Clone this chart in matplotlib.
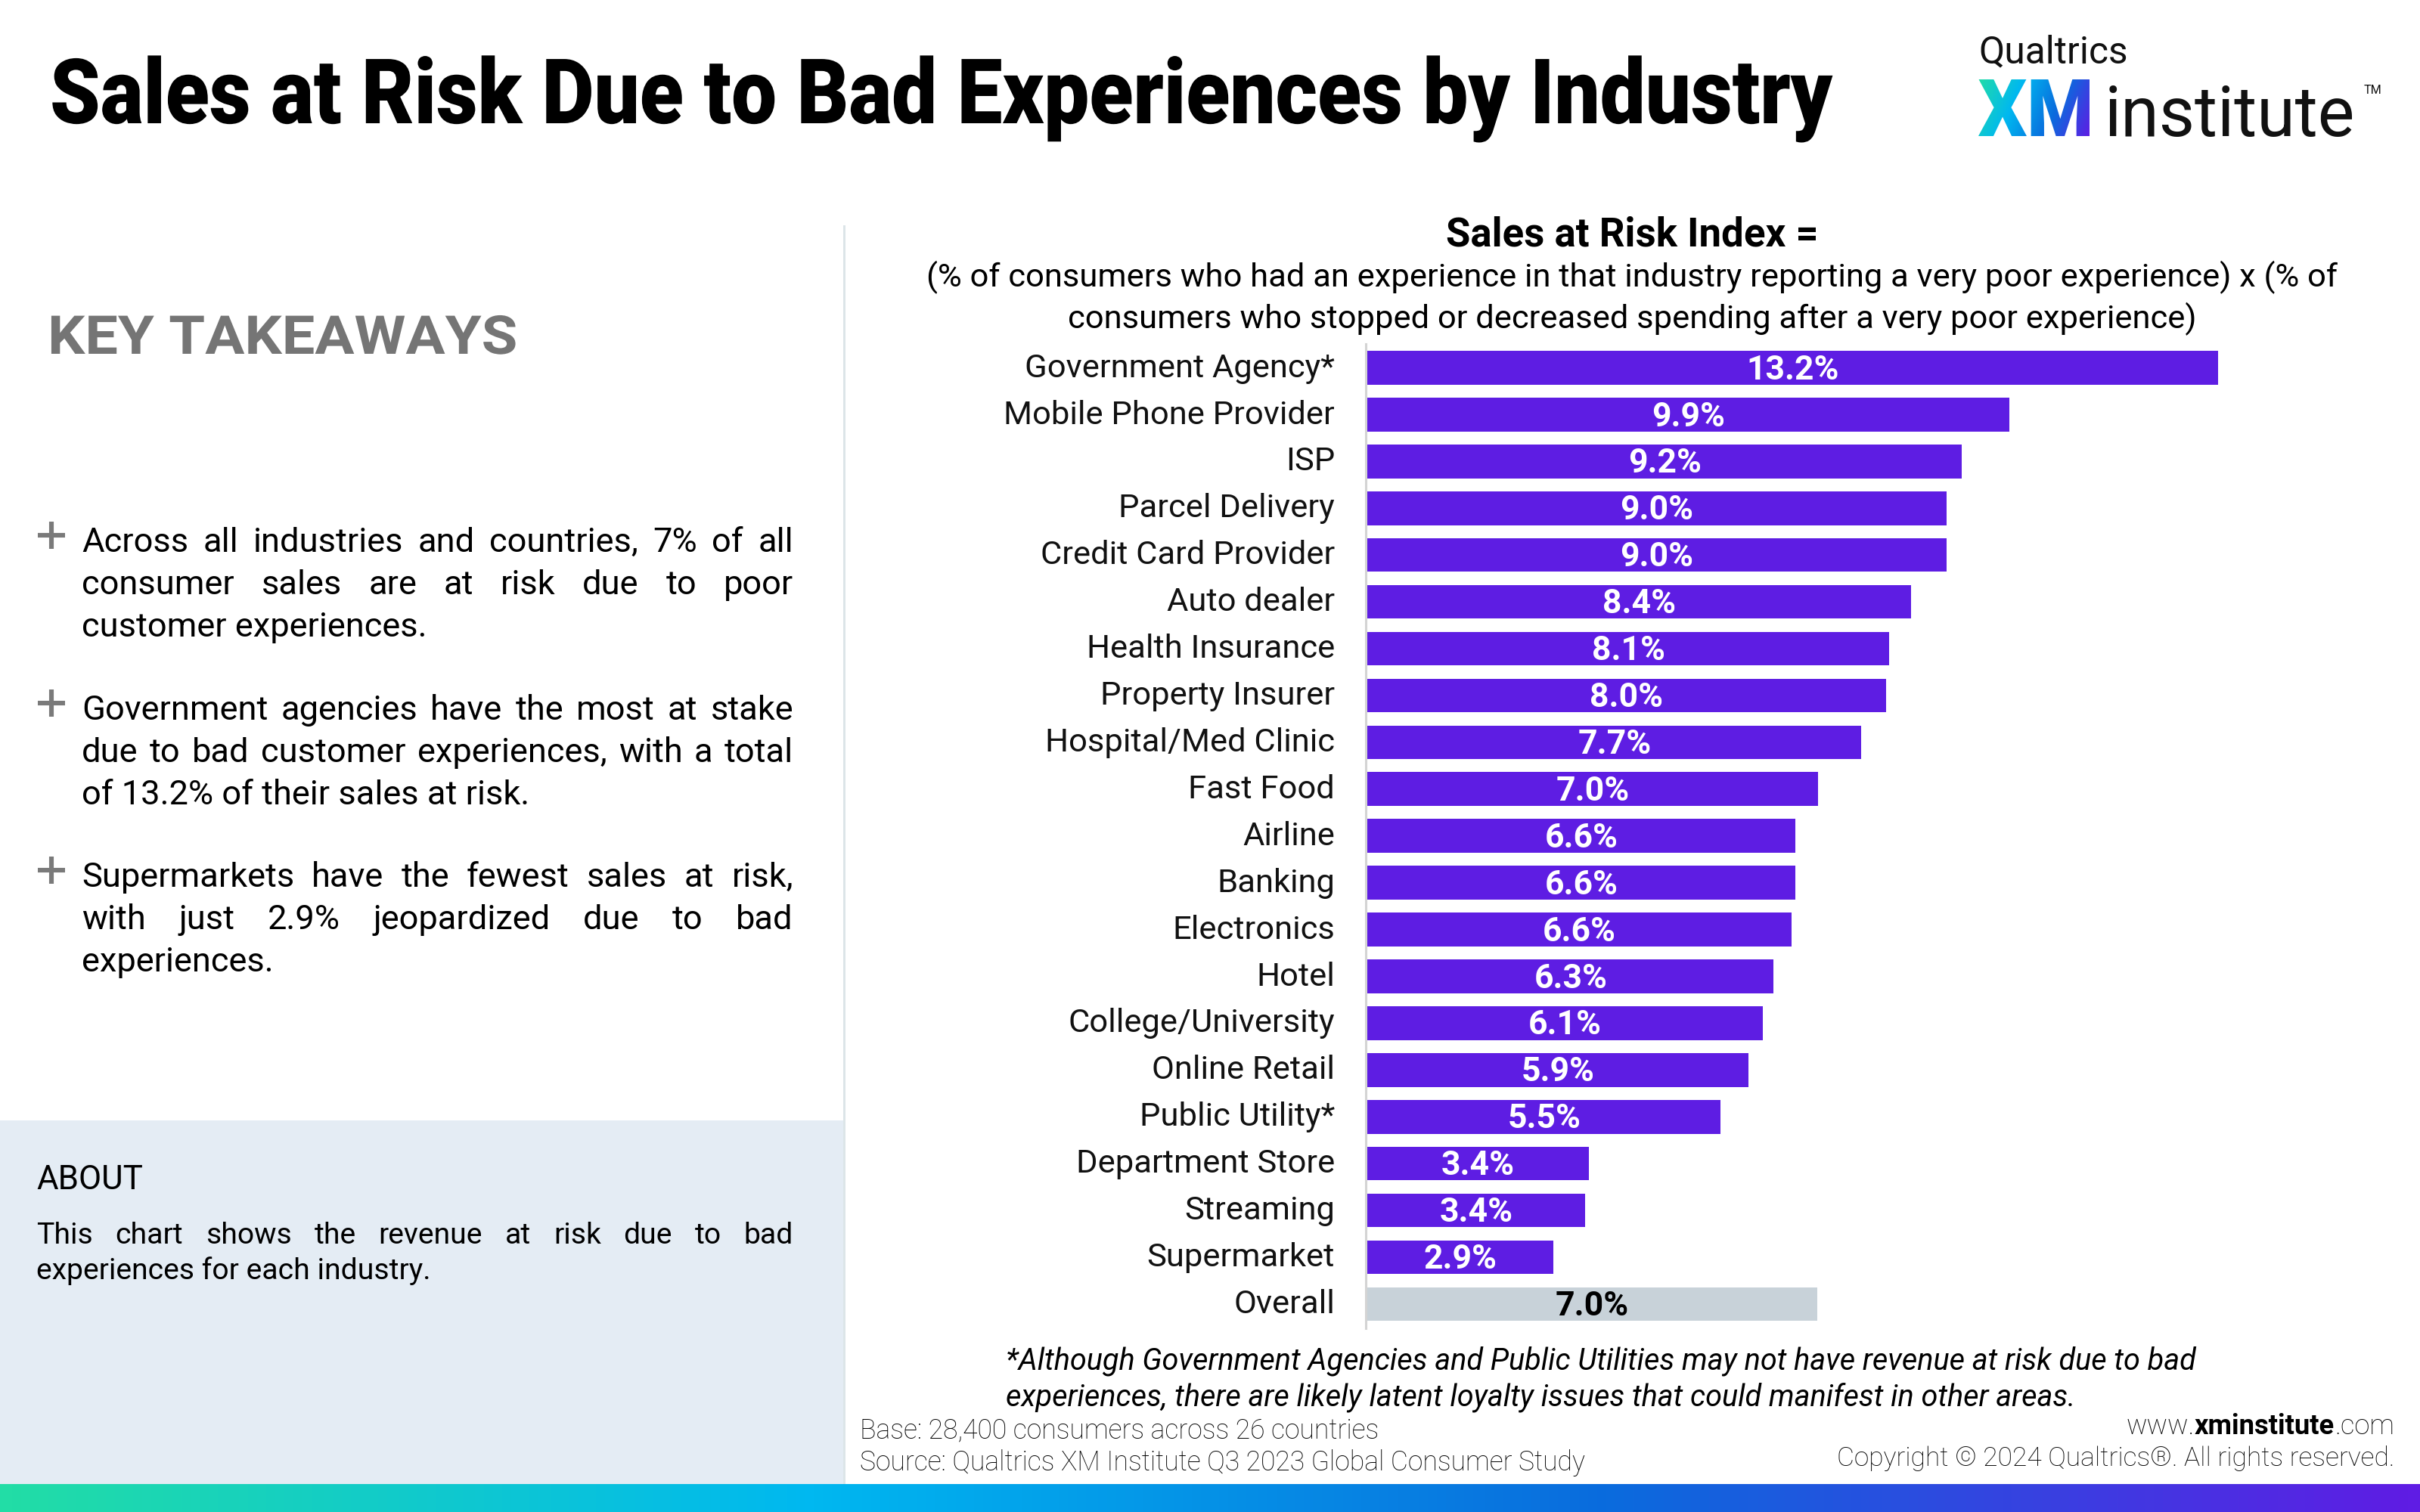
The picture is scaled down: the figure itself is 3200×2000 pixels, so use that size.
import numpy as np
import matplotlib
matplotlib.use("Agg")
import matplotlib.pyplot as plt
from matplotlib.colors import LinearSegmentedColormap
from matplotlib.textpath import TextPath
from matplotlib.font_manager import FontProperties
from matplotlib.patches import PathPatch, Rectangle
from matplotlib.patheffects import AbstractPathEffect
from matplotlib.transforms import Affine2D

categories = ["Government Agency*", "Mobile Phone Provider", "ISP", "Parcel Delivery",
              "Credit Card Provider", "Auto dealer", "Health Insurance", "Property Insurer",
              "Hospital/Med Clinic", "Fast Food", "Airline", "Banking", "Electronics", "Hotel",
              "College/University", "Online Retail", "Public Utility*", "Department Store",
              "Streaming", "Supermarket", "Overall"]
values = [13.19, 9.95, 9.22, 8.98, 8.98, 8.43, 8.09, 8.04, 7.66, 6.99, 6.63, 6.63, 6.58,
          6.30, 6.13, 5.91, 5.48, 3.43, 3.38, 2.88, 6.97]
labels = ["13.2%", "9.9%", "9.2%", "9.0%", "9.0%", "8.4%", "8.1%", "8.0%", "7.7%", "7.0%",
          "6.6%", "6.6%", "6.6%", "6.3%", "6.1%", "5.9%", "5.5%", "3.4%", "3.4%", "2.9%", "7.0%"]

takeaways = [
    ["Across all industries and countries, 7% of all", "consumer sales are at risk due to poor", "customer experiences."],
    ["Government agencies have the most at stake", "due to bad customer experiences, with a total", "of 13.2% of their sales at risk."],
    ["Supermarkets have the fewest sales at risk,", "with just 2.9% jeopardized due to bad", "experiences."],
]
about = ["This chart shows the revenue at risk due to bad", "experiences for each industry."]

PURPLE = "#5E1DE3"
GREY = "#C8D2D9"
F = "Roboto"
fig = plt.figure(figsize=(16, 10), dpi=200)
bg = fig.add_axes([0, 0, 1, 1])
bg.set_xlim(0, 3200); bg.set_ylim(2000, 0); bg.axis("off")


class Stretch(AbstractPathEffect):
    """Scale a text about its anchor point (pixel coordinates)."""
    def __init__(self, x0, y0, sx=1.0, sy=1.0):
        super().__init__()
        self.x0, self.y0, self.sx, self.sy = x0, y0, sx, sy

    def draw_path(self, renderer, gc, tpath, affine, rgbFace=None):
        a = affine + Affine2D().translate(-self.x0, -self.y0).scale(self.sx, self.sy).translate(self.x0, self.y0)
        renderer.draw_path(gc, tpath, a, rgbFace)


# panels
bg.add_patch(Rectangle((0, 1482), 1115, 481, fc="#E4ECF4", ec="none"))
bg.add_patch(Rectangle((1115, 298), 3, 1665, fc="#DCE5E8", ec="none"))
cmap = LinearSegmentedColormap.from_list("g", ["#22DDA6", "#00B8F0", "#0A6BDD", "#5F1CE4"])
bg.imshow(np.linspace(0, 1, 800)[None, :], extent=(0, 3200, 2000, 1963), cmap=cmap, aspect="auto", zorder=1)
bg.set_xlim(0, 3200); bg.set_ylim(2000, 0)


def T(x, y, s, size, weight="normal", color="black", ha="left", va="baseline", style="normal", **kw):
    return bg.text(x, y, s, fontsize=size, fontweight=weight, color=color, ha=ha, va=va,
                   fontstyle=style, family=F, **kw)


t = T(66, 163, "Sales at Risk Due to Bad Experiences by Industry", 38.4, "black")
t.set_path_effects([Stretch(66, 2000 - 163, 1.0, 1.12)])
t = T(63, 468, "KEY TAKEAWAYS", 25.5, "bold", "#757575")
t.set_path_effects([Stretch(63, 2000 - 468, 1.095, 1.0)])

r = fig.canvas.get_renderer()


def justified(x0, x1, y, line, size, just=True):
    if not just:
        T(x0, y, line, size)
        return
    words = line.split()
    ts = [T(0, y, w, size) for w in words]
    ws = [t.get_window_extent(r).width * 3200 / fig.bbox.width for t in ts]
    gap = (x1 - x0 - sum(ws)) / (len(words) - 1)
    x = x0
    for t, w in zip(ts, ws):
        t.set_x(x)
        x += w + gap


ys = [725, 947, 1168]
for blk, y0 in zip(takeaways, ys):
    bg.plot([50, 86], [y0 - 17, y0 - 17], color="#7A7A7A", lw=2.2, solid_capstyle="butt")
    bg.plot([68, 68], [y0 - 35, y0 + 1], color="#7A7A7A", lw=2.2, solid_capstyle="butt")
    for i, line in enumerate(blk):
        justified(108, 1049, y0 + 5 + i * 56, line, 16.3, just=i < 2)

T(48, 1573, "ABOUT", 15.8)
justified(48, 1049, 1645, about[0], 14.1)
T(48, 1692, about[1], 14.1)

# chart
ax = fig.add_axes([0, 0, 1, 1], facecolor="none")
scale = 85.3
ax.set_xlim(-1808 / scale, (3200 - 1808) / scale)
ypos = np.arange(len(categories))
step = 61.92
ax.set_ylim((2000 - 486.5) / step, -486.5 / step)
ax.barh(ypos, values, height=0.72, color=[PURPLE] * 20 + [GREY], zorder=3)
ax.axis("off")
ax.plot([-0.02, -0.02], [(455 - 486.5) / step, (1757 - 486.5) / step], color="#D4D4D4", lw=1.1, zorder=2)
for y, v, lab, c in zip(ypos, values, labels, categories):
    ax.text(v / 2, y + 0.05, lab, ha="center", va="center", fontsize=16, fontweight="bold", family=F,
            color="black" if c == "Overall" else "white", zorder=4)
    ax.text(-43 / scale, y + 0.01, c, ha="right", va="center", fontsize=15.65, family=F, color="#111111")

T(2158, 325, "Sales at Risk Index =", 19, "bold", ha="center")
T(2158, 379, "(% of consumers who had an experience in that industry reporting a very poor experience) x (% of", 15.67, ha="center")
T(2158, 434, "consumers who stopped or decreased spending after a very poor experience)", 15.67, ha="center")
T(1330, 1812, "*Although Government Agencies and Public Utilities may not have revenue at risk due to bad", 14.25, style="italic")
T(1330, 1860, "experiences, there are likely latent loyalty issues that could manifest in other areas.", 14.25, style="italic")
T(1137, 1902, "Base: 28,400 consumers across 26 countries", 12.8, "light", "black")
T(1137, 1945, "Source: Qualtrics XM Institute Q3 2023 Global Consumer Study", 12.8, "light", "black")

# footer right
t3 = T(3166, 1897, ".com", 13.1, "light", "black", ha="right")
w3 = t3.get_window_extent(r).width * 3200 / fig.bbox.width
t2 = T(3166 - w3, 1897, "xminstitute", 13.1, "bold", ha="right")
w2 = t2.get_window_extent(r).width * 3200 / fig.bbox.width
T(3166 - w3 - w2, 1897, "www.", 13.1, "light", "black", ha="right")
T(3166, 1939, "Copyright © 2024 Qualtrics®. All rights reserved.", 12.75, "light", "black", ha="right")

# logo
T(2616, 83, "Qualtrics", 17.9, color="#111111")
T(2783, 180, "institute", 33.0, "normal", "#111111")
T(3126, 124, "TM", 5.8, color="#111111")
fp = FontProperties(family=F, weight="black")
xm_txt = T(2616, 180, "XM", 27.5, "bold", "#0A90E0", zorder=3)
tp = TextPath((0, 0), "XM", size=96, prop=fp)
bb = tp.get_extents()
sx = (2763 - 2616) / bb.width
sy = (180 - 105) / bb.height
tr = Affine2D().translate(-bb.x0, -bb.y0).scale(sx, -sy).translate(2616, 180) + bg.transData
patch = PathPatch(tp, transform=tr, fc="none", ec="none")
bg.add_patch(patch)
xx, yy = np.meshgrid(np.linspace(0, 1, 150), np.linspace(0, 1, 90))
grad = xx * 0.8 + yy * 0.2
logo_cmap = LinearSegmentedColormap.from_list("l", ["#22DDA6", "#00B8F0", "#0A6BDD", "#5F1CE4"])
xm_txt.set_alpha(0)
im = bg.imshow(grad, extent=(2616, 2763, 185, 100), cmap=logo_cmap, aspect="auto", zorder=4)
im.set_clip_path(patch)
bg.set_xlim(0, 3200); bg.set_ylim(2000, 0)

fig.savefig("out.png", dpi=200, facecolor="white")
